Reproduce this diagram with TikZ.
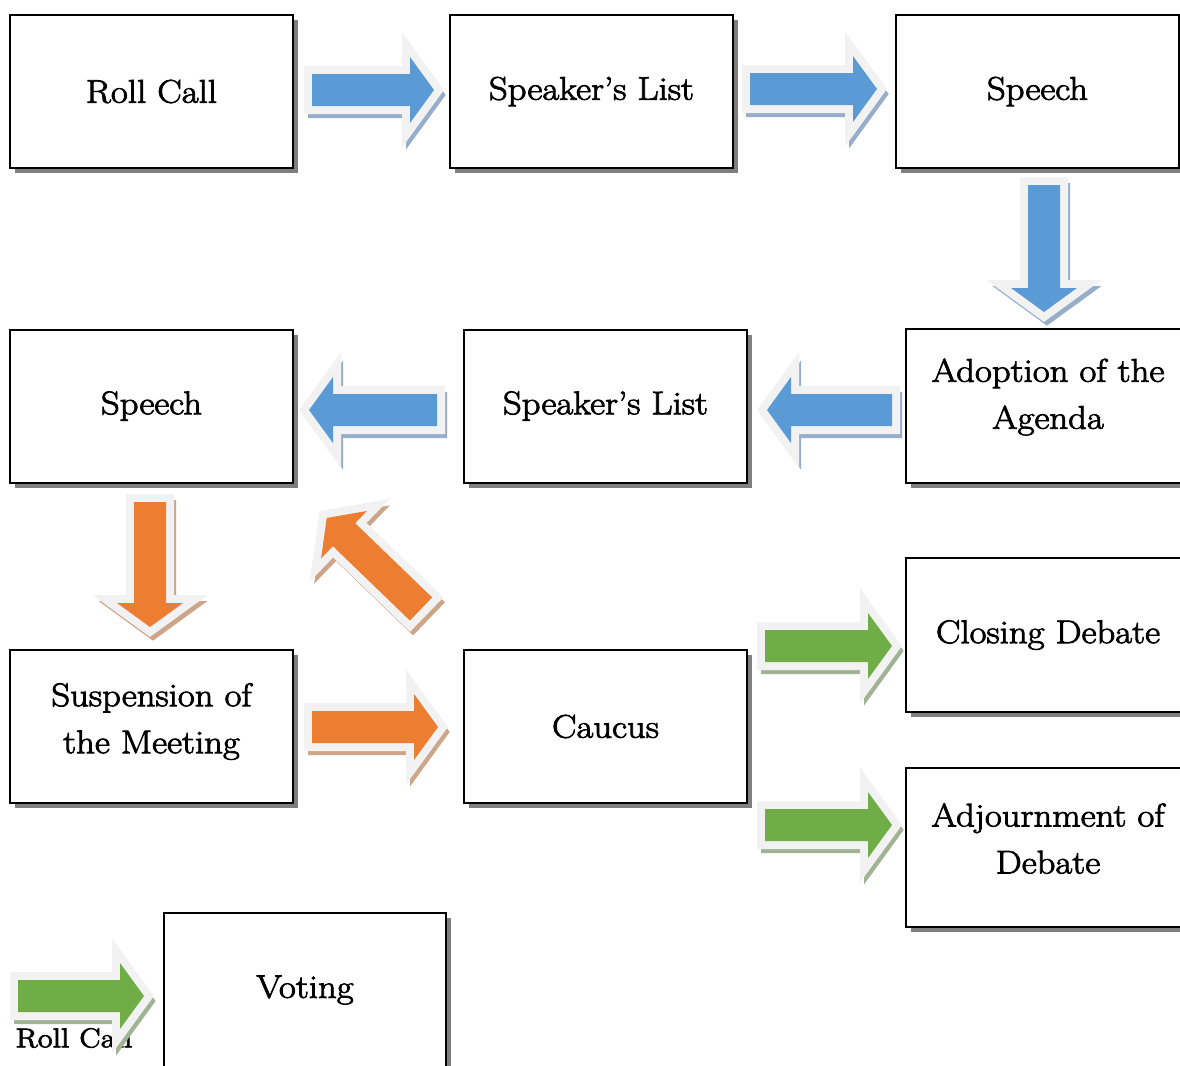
\documentclass[tikz,border=0pt]{standalone}
\usepackage{fontspec}
\newfontfamily\boxfont{Latin Modern Roman}[FakeBold=2.5, FakeStretch=1.12]
\usetikzlibrary{shadows}
\definecolor{blueA}{HTML}{5B9BD5}
\definecolor{orangeA}{HTML}{ED7D31}
\definecolor{greenA}{HTML}{70AD47}
\definecolor{blueS}{HTML}{97AECA}
\definecolor{orangeS}{HTML}{CDA68A}
\definecolor{greenS}{HTML}{A0B494}
\definecolor{arrowgray}{HTML}{F2F2F2}
\definecolor{boxshadow}{HTML}{7F7F7F}
% block arrow: #1 x, #2 y (tail centre, px), #3 angle, #4 length, #5 fill, #6 shadow
\newcommand\barrow[6]{%
  \begin{scope}[shift={(#1+3,#2+5)},rotate=#3]
    \filldraw[fill=#6,draw=#6,line width=7pt,line join=miter]
      (0,-16) -- ({#4-24},-16) -- ({#4-24},-33) -- (#4,0) -- ({#4-24},33) -- ({#4-24},16) -- (0,16) -- cycle;
  \end{scope}
  \begin{scope}[shift={(#1,#2)},rotate=#3]
    \filldraw[fill=arrowgray,draw=arrowgray,line width=8pt,line join=miter]
      (0,-16) -- ({#4-24},-16) -- ({#4-24},-33) -- (#4,0) -- ({#4-24},33) -- ({#4-24},16) -- (0,16) -- cycle;
    \fill[#5]
      (0,-16) -- ({#4-24},-16) -- ({#4-24},-33) -- (#4,0) -- ({#4-24},33) -- ({#4-24},16) -- (0,16) -- cycle;
  \end{scope}}
\tikzset{
  box/.style={draw=black, line width=1pt, fill=white, inner sep=0pt,
    minimum width=141.5pt, minimum height=76.5pt,
    drop shadow={shadow xshift=2.5pt, shadow yshift=-2.5pt, fill=boxshadow, opacity=1}},
  txt/.style={align=center, inner sep=0pt, font=\boxfont\fontsize{16.4pt}{23.5pt}\selectfont},
}
\begin{document}
\begin{tikzpicture}[x=0.5pt,y=-0.5pt]
\useasboundingbox (0,0) rectangle (1180,1066);
\fill[white] (0,0) rectangle (1180,1066);
\clip (0,0) rectangle (1180,1066);

% boxes
\node[box] (rc1) at (151.5,91.5) {};
\node[box] (sl1) at (591.5,91.5) {};
\node[box] (sp1) at (1037.5,91.5) {};
\node[box, minimum width=142pt, minimum height=77pt] (ad) at (1048,406) {};
\node[box] (sl2) at (605.5,406) {};
\node[box] (sp2) at (151.5,406) {};
\node[box] (su) at (151.5,726.5) {};
\node[box] (ca) at (605.5,726.5) {};
\node[box, minimum width=142pt, minimum height=77pt] (cd) at (1048,635) {};
\node[box, minimum width=142pt, minimum height=79.5pt] (aj) at (1048,847.5) {};
\node[box, minimum width=141pt, minimum height=78pt] (vo) at (305,991) {};

% texts
\node[txt] (rc1t) at (rc1.center) {Roll Call};
\node[txt] (sl1t) at (sl1.center) {Speaker’s List};
\node[txt] (sp1t) at (sp1.center) {Speech};
\node[txt] (adt) at ([yshift=4.5pt]ad.center) {Adoption of the\\Agenda};
\node[txt] (sl2t) at (sl2.center) {Speaker’s List};
\node[txt] (sp2t) at (sp2.center) {Speech};
\node[txt] (sut) at ([yshift=2.5pt]su.center) {Suspension of\\the Meeting};
\node[txt] (cat) at (ca.center) {Caucus};
\node[txt] (cdt) at (cd.center) {Closing Debate};
\node[txt] (ajt) at ([yshift=4.5pt]aj.center) {Adjournment of\\Debate};
\node[txt] (vot) at ([yshift=0.5pt]vo.center) {Voting};
\node[txt, font=\boxfont\fontsize{13.6pt}{17pt}\selectfont] (rc2t) at (74,1038) {Roll Call};

% block arrows
\barrow{312}{90}{0}{122}{blueA}{blueS}
\barrow{750}{89}{0}{127}{blueA}{blueS}
\barrow{1044}{185}{-90}{127}{blueA}{blueS}
\barrow{892}{410}{180}{125}{blueA}{blueS}
\barrow{437}{410}{180}{128}{blueA}{blueS}
\barrow{150}{502}{-90}{125}{orangeA}{orangeS}
\barrow{421}{609}{136}{131}{orangeA}{orangeS}
\barrow{312}{727}{0}{126}{orangeA}{orangeS}
\barrow{765}{646}{0}{127}{greenA}{greenS}
\barrow{765}{825}{0}{127}{greenA}{greenS}
\barrow{18}{996}{0}{126}{greenA}{greenS}
\end{tikzpicture}
\end{document}
